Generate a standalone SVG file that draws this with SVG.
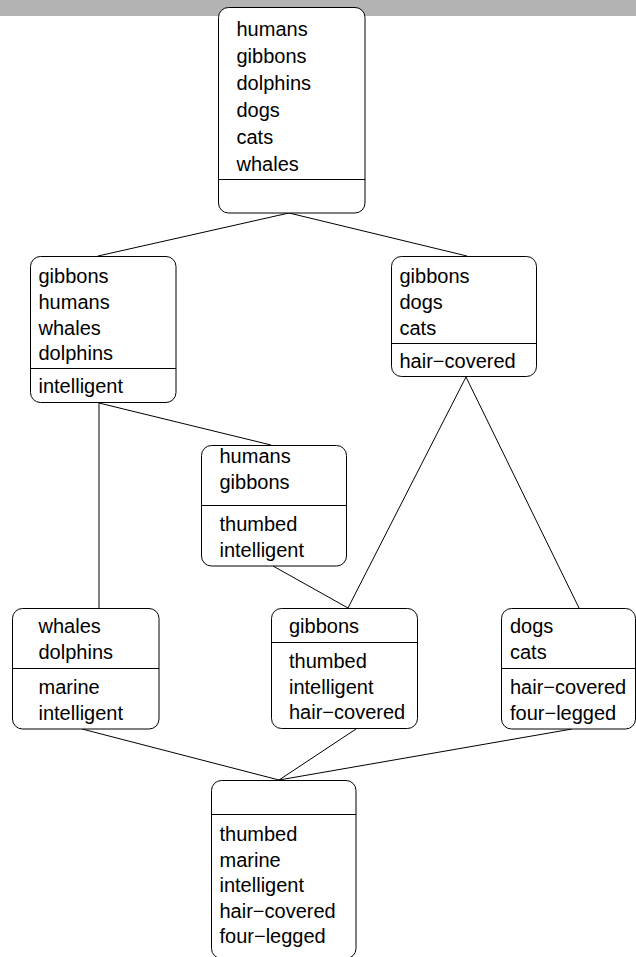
<svg xmlns="http://www.w3.org/2000/svg" width="636" height="957" viewBox="0 0 636 957">
<style>
.box{fill:#fff;stroke:#000;stroke-width:1}
.div{stroke:#000;stroke-width:1}
.edge{stroke:#000;stroke-width:1;fill:none}
text{font-family:"Liberation Sans",Arial,sans-serif;font-size:20px;fill:#000}
</style>
<rect x="0" y="0" width="636" height="16" fill="#b3b3b3"/>
<g id="connectors">
<line class="edge" x1="289" y1="213" x2="98" y2="256"/>
<line class="edge" x1="289" y1="213" x2="467" y2="256"/>
<line class="edge" x1="99" y1="403" x2="99" y2="608"/>
<line class="edge" x1="99" y1="403" x2="271" y2="445"/>
<line class="edge" x1="466" y1="377" x2="348" y2="608"/>
<line class="edge" x1="466" y1="377" x2="579" y2="608"/>
<line class="edge" x1="273" y1="566" x2="348" y2="608"/>
<line class="edge" x1="82" y1="729" x2="279" y2="780"/>
<line class="edge" x1="356" y1="729" x2="279" y2="780"/>
<line class="edge" x1="572" y1="729" x2="279" y2="780"/>
</g>
<g id="n_all">
<rect class="box" x="218.5" y="7.5" width="146.5" height="205.5" rx="10"/>
<line class="div" x1="218.5" y1="179.5" x2="365" y2="179.5"/>
<text x="236.5" y="36">humans</text>
<text x="236.5" y="63">gibbons</text>
<text x="236.5" y="90">dolphins</text>
<text x="236.5" y="117">dogs</text>
<text x="236.5" y="144">cats</text>
<text x="236.5" y="171">whales</text>
</g>
<g id="n_intelligent">
<rect class="box" x="30.5" y="256.5" width="145.5" height="146" rx="10"/>
<line class="div" x1="30.5" y1="368.5" x2="176" y2="368.5"/>
<text x="38.5" y="283">gibbons</text>
<text x="38.5" y="309">humans</text>
<text x="38.5" y="335">whales</text>
<text x="38.5" y="360">dolphins</text>
<text x="38.5" y="392.5">intelligent</text>
</g>
<g id="n_hair">
<rect class="box" x="391.5" y="256.5" width="145" height="120" rx="10"/>
<line class="div" x1="391.5" y1="343.5" x2="536.5" y2="343.5"/>
<text x="399.5" y="283">gibbons</text>
<text x="399.5" y="309">dogs</text>
<text x="399.5" y="335">cats</text>
<text x="399.5" y="368">hair−covered</text>
</g>
<g id="n_thumbed">
<rect class="box" x="201.5" y="445.5" width="145" height="120.5" rx="10"/>
<line class="div" x1="201.5" y1="505.5" x2="346.5" y2="505.5"/>
<text x="219.5" y="462.5">humans</text>
<text x="219.5" y="489">gibbons</text>
<text x="219.5" y="530.5">thumbed</text>
<text x="219.5" y="556.5">intelligent</text>
</g>
<g id="n_marine">
<rect class="box" x="12.5" y="608.5" width="146.5" height="120.5" rx="10"/>
<line class="div" x1="12.5" y1="668.5" x2="159" y2="668.5"/>
<text x="38.5" y="633">whales</text>
<text x="38.5" y="659">dolphins</text>
<text x="38.5" y="694">marine</text>
<text x="38.5" y="719.5">intelligent</text>
</g>
<g id="n_gibbons">
<rect class="box" x="271.5" y="608.5" width="146" height="120" rx="10"/>
<line class="div" x1="271.5" y1="642.5" x2="417.5" y2="642.5"/>
<text x="289" y="633">gibbons</text>
<text x="289" y="668">thumbed</text>
<text x="289" y="693.5">intelligent</text>
<text x="289" y="719">hair−covered</text>
</g>
<g id="n_fourlegged">
<rect class="box" x="501.5" y="608.5" width="134" height="120.5" rx="10"/>
<line class="div" x1="501.5" y1="668.5" x2="635.5" y2="668.5"/>
<text x="510" y="633">dogs</text>
<text x="510" y="659">cats</text>
<text x="510" y="694">hair−covered</text>
<text x="510" y="719.5">four−legged</text>
</g>
<g id="n_bottom">
<rect class="box" x="211.5" y="780.5" width="144.5" height="178" rx="10"/>
<line class="div" x1="211.5" y1="814.5" x2="356" y2="814.5"/>
<text x="219.5" y="841">thumbed</text>
<text x="219.5" y="866.5">marine</text>
<text x="219.5" y="892">intelligent</text>
<text x="219.5" y="917.5">hair−covered</text>
<text x="219.5" y="943">four−legged</text>
</g>
</svg>
